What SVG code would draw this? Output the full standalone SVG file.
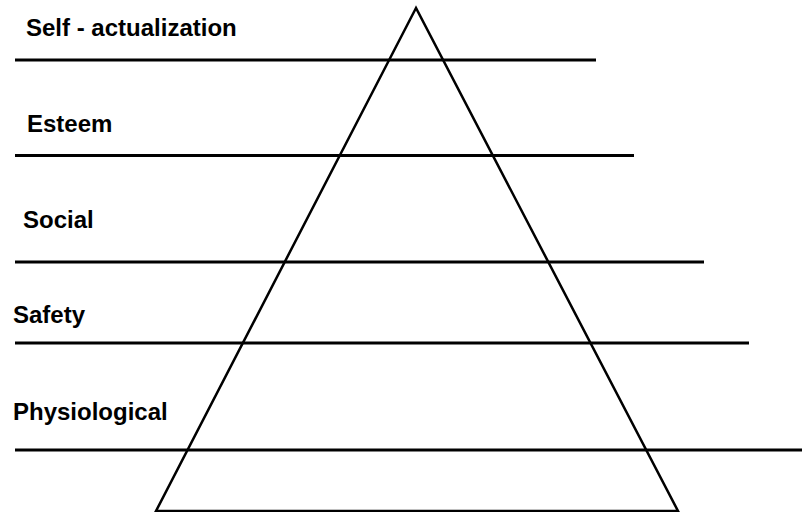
<svg xmlns="http://www.w3.org/2000/svg" width="802" height="512" viewBox="0 0 802 512">
<style>
.lbl{font-family:"Liberation Sans",Arial,sans-serif;font-weight:bold;font-size:24px;fill:#000}
.ln{stroke:#000;stroke-width:3;fill:none}
.tri{stroke:#000;stroke-width:2.5;fill:none;stroke-linejoin:miter}
</style>
<rect width="802" height="512" fill="#fff"/>
<g id="connectors">
<line class="ln" x1="15" y1="60" x2="596" y2="60"/>
<line class="ln" x1="15" y1="155.5" x2="634" y2="155.5"/>
<line class="ln" x1="15" y1="262" x2="704" y2="262"/>
<line class="ln" x1="15" y1="343" x2="749" y2="343"/>
<line class="ln" x1="15" y1="450" x2="802" y2="450"/>
</g>
<g id="pyramid">
<polygon class="tri" points="416,8 156,511 678,511"/>
</g>
<g id="self-actualization"><text class="lbl" x="26" y="36">Self - actualization</text></g>
<g id="esteem"><text class="lbl" x="27" y="132">Esteem</text></g>
<g id="social"><text class="lbl" x="23" y="228">Social</text></g>
<g id="safety"><text class="lbl" x="13" y="323">Safety</text></g>
<g id="physiological"><text class="lbl" x="13" y="420">Physiological</text></g>
</svg>
